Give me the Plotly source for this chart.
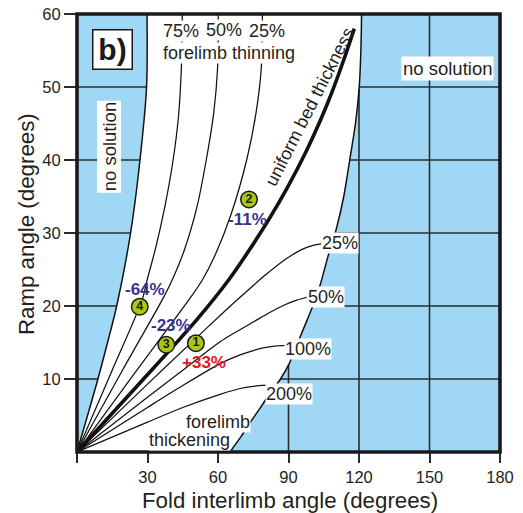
import numpy as np
import plotly.graph_objects as go

# ---------------- data ----------------
# Fold interlimb angle (x, degrees) vs ramp angle (y, degrees)
LEFT_BOUND_X = [0, 8.9, 13.0, 16.9, 22.8, 26.8, 29.6, 29.8]
LEFT_BOUND_Y = [0, 10, 15, 20, 30, 40, 50, 60]

RIGHT_BOUND_X = [65.1, 70, 74, 77.9, 82, 86.4, 90.3, 95.5, 100.6, 103.4, 106.9, 110.3, 113.5, 116.2, 118.5, 120.1, 120.8, 121.1]
RIGHT_BOUND_Y = [0, 2.2, 4.2, 6.0, 8.0, 9.9, 12.1, 16.2, 20.2, 22.8, 26.9, 30.5, 35, 40.3, 45, 50, 55, 60]

UNIFORM_X = [0, 25.5, 50.9, 64.6, 73.6, 82.1, 89.8, 97.4, 103.4, 108.5, 113.6, 118.0]
UNIFORM_Y = [0, 9.0, 18.1, 23.6, 27.8, 32.1, 36.4, 41.1, 45.3, 49.3, 53.8, 58.0]

THIN75_X = [0, 14.7, 27.7, 29.8, 33.5, 37.5, 40.9, 43.2, 44.4, 44.7, 44.8]
THIN75_Y = [0, 11, 20.8, 23.5, 28, 33.8, 40, 46, 52.5, 56, 60]

THIN50_X = [0, 19, 36.2, 40.4, 45.5, 51, 55, 58.2, 59.8, 60.1]
THIN50_Y = [0, 11, 20.8, 23.5, 27.5, 33.5, 40, 46.5, 52.5, 60]

THIN25_X = [0, 25, 47.5, 53.2, 58.8, 65.5, 72.2, 76.2, 78.4, 78.9]
THIN25_Y = [0, 11, 20.8, 23.5, 27, 32.5, 40, 46.5, 52.5, 60]

THICK25_X = [0, 30, 50, 60.9, 70.8, 80, 89.2, 96, 100.5, 104]
THICK25_Y = [0, 9.3, 15.4, 18.7, 21.6, 24.2, 26.5, 27.8, 28.3, 28.5]

THICK50_X = [0, 30, 45, 60.9, 68, 75, 82, 88, 93.5, 97.8]
THICK50_Y = [0, 7.5, 11.2, 15.1, 16.5, 17.8, 19.1, 20.1, 20.8, 21.2]

THICK100_X = [0, 30, 45, 60.9, 69.4, 75, 79.3, 84, 89]
THICK100_Y = [0, 6.1, 9.1, 12.1, 13.3, 13.9, 14.25, 14.5, 14.6]

THICK200_X = [0, 30, 45, 60.9, 69.4, 75, 80.7]
THICK200_Y = [0, 4.1, 6.1, 7.9, 8.7, 9.0, 9.15]

# sample points
POINT_IDS = ["1", "2", "3", "4"]
POINT_X = [50.6, 73.2, 38.0, 26.7]
POINT_Y = [14.9, 34.6, 14.7, 19.9]
POINT_CHANGE = ["+33%", "-11%", "-23%", "-64%"]

X_TICKS = [0, 30, 60, 90, 120, 150, 180]
X_TICKTEXT = ["", "30", "60", "90", "120", "150", "180"]
Y_TICKS = [10, 20, 30, 40, 50, 60]
GRID_Y = [10, 20, 30, 40, 50]
GRID_X = [90, 120, 150]

# ---------------- styles ----------------
FONT = "Liberation Sans, Arial, sans-serif"
BLUE = "#a0d7f5"
INK = "#231f20"
GRID = "#2b2b2b"

fig = go.Figure()

# blue "no solution" regions
fig.add_trace(go.Scatter(
    x=[0] + LEFT_BOUND_X + [0], y=[0] + LEFT_BOUND_Y + [60],
    fill="toself", fillcolor=BLUE, line=dict(width=0), mode="lines",
    hoverinfo="skip", showlegend=False))
fig.add_trace(go.Scatter(
    x=RIGHT_BOUND_X + [180, 180], y=RIGHT_BOUND_Y + [60, 0],
    fill="toself", fillcolor=BLUE, line=dict(width=0), mode="lines",
    hoverinfo="skip", showlegend=False))

# grid lines only inside the blue regions
gx, gy = [], []
for yv in GRID_Y:
    xl = float(np.interp(yv, LEFT_BOUND_Y, LEFT_BOUND_X))
    gx += [0, xl, None]
    gy += [yv, yv, None]
    xr = float(np.interp(yv, RIGHT_BOUND_Y, RIGHT_BOUND_X))
    gx += [xr, 180, None]
    gy += [yv, yv, None]
for xv in GRID_X:
    yt = float(np.interp(xv, RIGHT_BOUND_X, RIGHT_BOUND_Y))
    gx += [xv, xv, None]
    gy += [0, yt, None]
fig.add_trace(go.Scatter(x=gx, y=gy, mode="lines",
                         line=dict(color=GRID, width=1.6),
                         hoverinfo="skip", showlegend=False))

# thin curves
for cx, cy in [(THIN75_X, THIN75_Y), (THIN50_X, THIN50_Y), (THIN25_X, THIN25_Y),
               (THICK25_X, THICK25_Y), (THICK50_X, THICK50_Y),
               (THICK100_X, THICK100_Y), (THICK200_X, THICK200_Y)]:
    fig.add_trace(go.Scatter(x=cx, y=cy, mode="lines",
                             line=dict(color="#111", width=1.25, shape="spline", smoothing=0.8),
                             hoverinfo="skip", showlegend=False))

# boundaries
for cx, cy in [(LEFT_BOUND_X, LEFT_BOUND_Y), (RIGHT_BOUND_X, RIGHT_BOUND_Y)]:
    fig.add_trace(go.Scatter(x=cx, y=cy, mode="lines",
                             line=dict(color="#111", width=1.5, shape="spline", smoothing=0.8),
                             hoverinfo="skip", showlegend=False))

# uniform bed thickness
fig.add_trace(go.Scatter(x=UNIFORM_X, y=UNIFORM_Y, mode="lines",
                         line=dict(color="#111", width=3.6, shape="spline", smoothing=0.9),
                         hoverinfo="skip", showlegend=False))

# points
fig.add_trace(go.Scatter(
    x=POINT_X, y=POINT_Y, mode="markers+text", text=POINT_IDS,
    textposition="middle center",
    textfont=dict(family=FONT, size=12.5, color="#1a1a1a", weight="bold"),
    marker=dict(size=16.5, color="#a8c814", line=dict(color="#1a1a1a", width=1.5)),
    hoverinfo="skip", showlegend=False))

ann = []


def label(x, y, text, size=18, color=INK, bg="white", angle=0, bold=False, **kw):
    t = f"<b>{text}</b>" if bold else text
    d = dict(x=x, y=y, xref="x", yref="y", text=t, showarrow=False,
             font=dict(family=FONT, size=size, color=color),
             textangle=angle, borderpad=0)
    if bg:
        d["bgcolor"] = bg
    d.update(kw)
    ann.append(d)


label(44.2, 57.7, "75%")
label(62.6, 57.8, "50%")
label(80.7, 57.7, "25%")
label(64.6, 54.7, "forelimb thinning")
label(111.9, 28.6, "25%")
label(105.9, 21.3, "50%")
label(98.4, 14.1, "100%")
label(90.2, 7.9, "200%")
label(60.2, 4.1, "forelimb")
label(47.9, 1.7, "thickening")
label(13.8, 41.8, "no solution", size=18.5, angle=-90, borderpad=1)
label(157.7, 52.6, "no solution", size=18.5, borderpad=1)
label(98.9, 47.3, "uniform bed thickness", bg=None, angle=-63)

# percent change labels
PCT_POS = {"+33%": (53.9, 12.3), "-11%": (72.7, 31.8), "-23%": (40.2, 17.3), "-64%": (29.1, 22.3)}
for txt in POINT_CHANGE:
    px, py = PCT_POS[txt]
    col = "#e8141c" if txt.startswith("+") else "#3a2f8f"
    label(px, py, txt, size=17, color=col, bg=None, bold=True)

# panel tag
ann.append(dict(x=14.98, y=55.2, xref="x", yref="y", text="<b>b)</b>", showarrow=False,
                font=dict(family=FONT, size=30, color="#1a1a1a"),
                bgcolor="white", bordercolor="#1a1a1a", borderwidth=1.5,
                borderpad=1, width=36, height=36))

# axis titles
ann.append(dict(x=0.5035, y=-0.111, xref="paper", yref="paper",
                text="Fold interlimb angle (degrees)", showarrow=False,
                font=dict(family=FONT, size=22.3, color=INK),
                xanchor="center", yanchor="middle"))
ann.append(dict(x=-0.121, y=0.52, xref="paper", yref="paper",
                text="Ramp angle (degrees)", showarrow=False, textangle=-90,
                font=dict(family=FONT, size=22.3, color=INK),
                xanchor="center", yanchor="middle"))

fig.update_layout(
    width=523, height=513,
    margin=dict(l=77, r=23, t=14, b=61, autoexpand=False),
    paper_bgcolor="white", plot_bgcolor="white",
    annotations=ann,
    shapes=[dict(type="rect", xref="paper", yref="paper", x0=0, x1=1, y0=0, y1=1,
                 line=dict(color="#1a1a1a", width=3.6), layer="above")],
    xaxis=dict(range=[0, 180], showgrid=False, zeroline=False, showline=False,
               ticks="outside", ticklen=10, tickwidth=1.5, tickcolor=GRID,
               tickvals=X_TICKS, ticktext=X_TICKTEXT, automargin=False,
               tickfont=dict(family=FONT, size=16.5, color=INK)),
    yaxis=dict(range=[0, 60], showgrid=False, zeroline=False, showline=False,
               ticks="outside", ticklen=12, tickwidth=1.5, tickcolor=GRID,
               tickvals=Y_TICKS, automargin=False,
               tickfont=dict(family=FONT, size=16.5, color=INK)),
    font=dict(family=FONT),
)

fig.write_html("out.html", config={"displayModeBar": False},
               post_script="document.body.style.margin='0';document.body.style.padding='0';")
